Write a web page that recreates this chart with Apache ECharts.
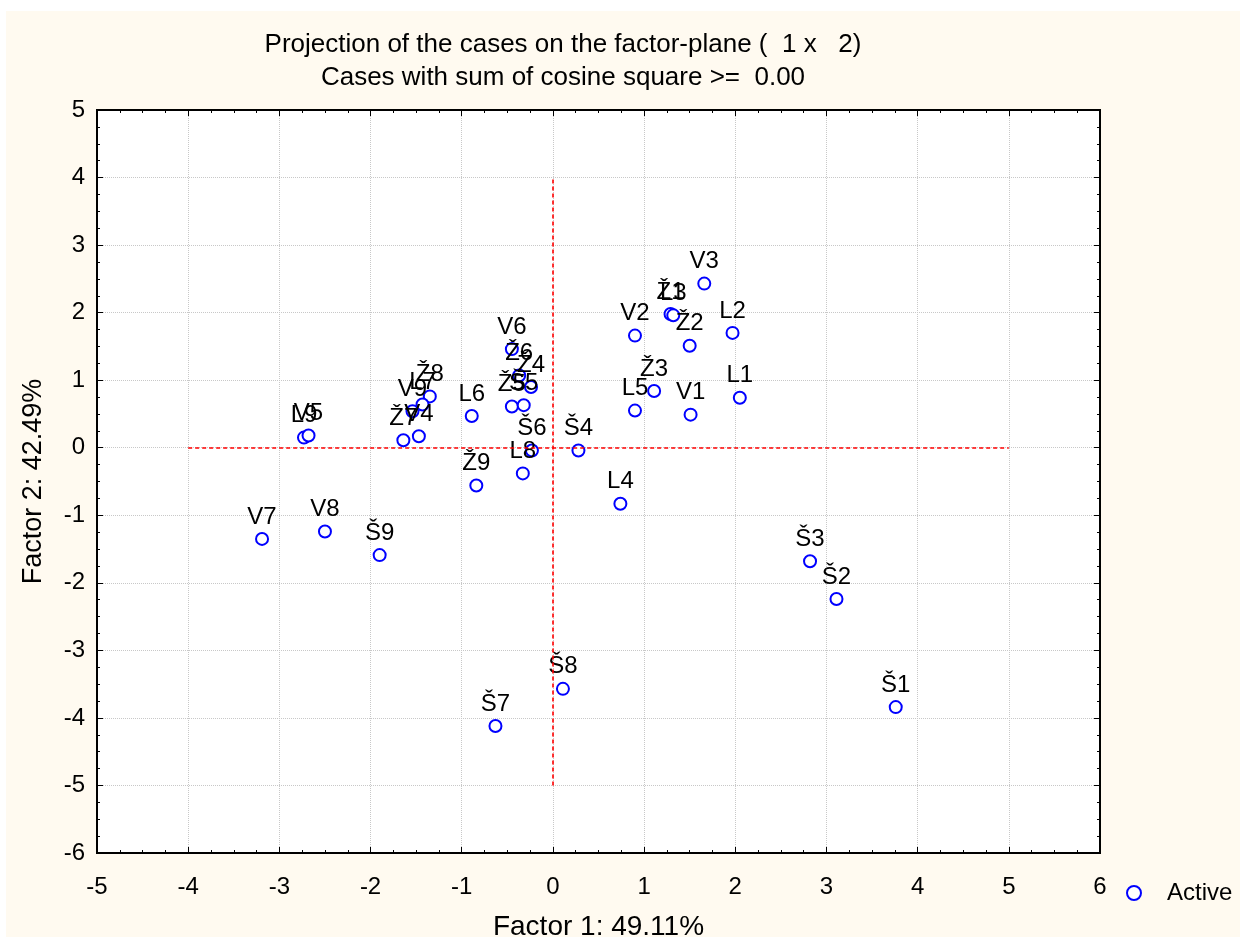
<!DOCTYPE html>
<html>
<head>
<meta charset="utf-8">
<script src="https://cdn.jsdelivr.net/npm/echarts@6/dist/echarts.min.js"></script>
<style>
  body { margin: 0; background: #ffffff; }
  #chart { position: absolute; left: 6px; top: 11px; width: 1234px; height: 926px; }
</style>
</head>
<body>
<div id="chart"></div>
<script>
// case labels and their coordinates on the factor plane
const caseNames = ['V3', 'Ž1', 'L3', 'L2', 'V2', 'Ž2', 'Ž3', 'L1', 'L5', 'V1',
  'V6', 'Ž6', 'Ž4', 'Ž5', 'Š5', 'Š6', 'L8', 'Ž9', 'L6', 'Ž8',
  'L7', 'V9', 'Ž7', 'V4', 'L9', 'V5', 'Š4', 'L4', 'V7', 'V8',
  'Š9', 'Š7', 'Š8', 'Š3', 'Š2', 'Š1']
const factor1 = [1.66, 1.29, 1.32, 1.97, 0.90, 1.50, 1.11, 2.05, 0.90, 1.51,
  -0.45, -0.37, -0.24, -0.45, -0.32, -0.23, -0.33, -0.84, -0.89, -1.35,
  -1.43, -1.54, -1.64, -1.47, -2.73, -2.68, 0.28, 0.74, -3.19, -2.50,
  -1.90, -0.63, 0.11, 2.82, 3.11, 3.76]
const factor2 = [2.43, 1.98, 1.96, 1.70, 1.66, 1.51, 0.84, 0.74, 0.55, 0.49,
  1.46, 1.07, 0.90, 0.61, 0.63, -0.04, -0.38, -0.56, 0.47, 0.76,
  0.64, 0.54, 0.11, 0.17, 0.15, 0.18, -0.04, -0.83, -1.35, -1.24,
  -1.59, -4.12, -3.57, -1.68, -2.24, -3.84]

// red reference lines (centre of the plane)
const vLineX = 0, vLineFrom = -5, vLineTo = 4
const hLineY = 0, hLineFrom = -4, hLineTo = 5

const chart = echarts.init(document.getElementById('chart'))
const font = 'Liberation Sans, Arial, sans-serif'

const axisCommon = {
  type: 'value',
  interval: 1,
  axisLine: { show: true, onZero: false, lineStyle: { color: '#000', width: 2 } },
  axisTick: { show: true, inside: true, length: 6, lineStyle: { color: '#000' } },
  minorTick: { show: true, splitNumber: 4, length: 3, lineStyle: { color: '#000' } },
}

const option = {
  backgroundColor: '#fffaf0',
  animation: false,
  textStyle: { fontFamily: font },
  graphic: [
    {
      type: 'text', x: 557, y: 34,
      style: { text: 'Projection of the cases on the factor-plane (  1 x   2)', align: 'center', verticalAlign: 'middle', font: '26px ' + font, fill: '#000' },
    },
    {
      type: 'text', x: 557, y: 67,
      style: { text: 'Cases with sum of cosine square >=  0.00', align: 'center', verticalAlign: 'middle', font: '26px ' + font, fill: '#000' },
    },
  ],
  grid: {
    left: 91, top: 99, right: 140, bottom: 84,
    outerBoundsMode: 'none',
    show: true, backgroundColor: '#ffffff', borderColor: '#000', borderWidth: 2,
  },
  legend: {
    left: 1115, top: 865,
    itemWidth: 14, itemHeight: 14, itemGap: 10,
    textStyle: { fontSize: 24, color: '#000', fontFamily: font, padding: [0, 0, 0, 21] },
    data: [{ name: 'Active', icon: 'emptyCircle' }],
  },
  xAxis: [
    {
      ...axisCommon,
      min: -5, max: 6, position: 'bottom',
      name: 'Factor 1: 49.11%', nameLocation: 'middle', nameGap: 60,
      nameTextStyle: { fontSize: 28, color: '#000', fontFamily: font },
      axisLabel: { fontSize: 24, color: '#000', margin: 22, fontFamily: font },
      splitLine: { show: true, lineStyle: { color: '#c8c8c8', type: 'dotted' } },
    },
    {
      ...axisCommon,
      min: -5, max: 6, position: 'top',
      axisLabel: { show: false }, splitLine: { show: false },
    },
  ],
  yAxis: [
    {
      ...axisCommon,
      min: -6, max: 5, position: 'left',
      name: 'Factor 2: 42.49%', nameLocation: 'middle', nameGap: 50,
      nameTextStyle: { fontSize: 27, color: '#000', fontFamily: font },
      axisLabel: { fontSize: 24, color: '#000', margin: 12, fontFamily: font },
      splitLine: { show: true, lineStyle: { color: '#c8c8c8', type: 'dotted' } },
    },
    {
      ...axisCommon,
      min: -6, max: 5, position: 'right',
      axisLabel: { show: false }, splitLine: { show: false },
    },
  ],
  series: [
    {
      name: 'Active',
      type: 'scatter',
      symbol: 'emptyCircle',
      symbolSize: 12,
      itemStyle: { color: '#0000ff', borderColor: '#0000ff', borderWidth: 2, opacity: 1 },
      label: {
        show: true,
        position: 'top',
        distance: 3,
        formatter: (p) => caseNames[p.dataIndex],
        fontSize: 24,
        color: '#000',
        opacity: 1,
        fontFamily: font,
      },
      data: factor1.map((x, i) => [x, factor2[i]]),
      markLine: {
        silent: true,
        symbol: 'none',
        label: { show: false },
        lineStyle: { color: '#ff0000', type: [4, 3], width: 1.6, opacity: 1 },
        data: [
          [{ coord: [vLineX, vLineFrom] }, { coord: [vLineX, vLineTo] }],
          [{ coord: [hLineFrom, hLineY] }, { coord: [hLineTo, hLineY] }],
        ],
      },
      z: 3,
    },
  ],
}

chart.setOption(option)
</script>
</body>
</html>
